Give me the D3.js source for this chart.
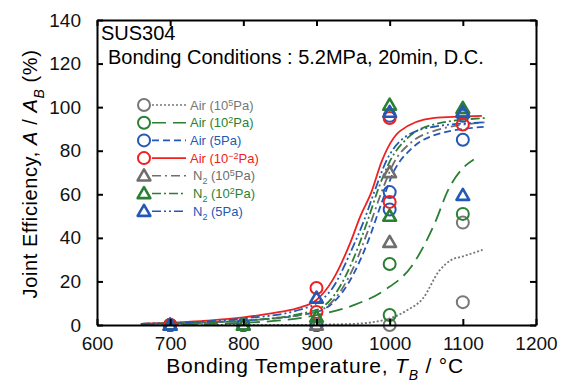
<!DOCTYPE html>
<html>
<head>
<meta charset="utf-8">
<script src="https://cdn.jsdelivr.net/npm/d3@7"></script>
<style>
  body { margin: 0; background: #fff; }
  svg text { font-family: "Liberation Sans", Arial, sans-serif; }
</style>
</head>
<body>
<svg id="chart"></svg>
<script>
const width = 568, height = 385;
const margin = {left: 97, right: 32, top: 20, bottom: 60};

// series: name parts, colour, marker, dash
const seriesNames = [
  ["Air (10", "5", "Pa)"], ["Air (10", "2", "Pa)"], ["Air (5Pa)", "", ""], ["Air (10", "\u22122", "Pa)"],
  ["N", "2", " (10", "5", "Pa)"], ["N", "2", " (10", "2", "Pa)"], ["N", "2", " (5Pa)"]
];
const seriesColors = ["#777777", "#2b7f33", "#2358b5", "#ee2020", "#6e6e6e", "#2b7f33", "#2358b5"];
const seriesMarkers = ["circle", "circle", "circle", "circle", "triangle", "triangle", "triangle"];
const seriesDash = ["2,2", "14,7", "7,4", null, "9,4,2,4", "9,3,2,3", "9,3,2,3,2,3"];

// measured points [temperature, efficiency]
const pointsAir5 = [[700, 0], [800, 0], [900, 0], [1000, 0], [1100, 47], [1100, 10.5]];
const pointsAir2 = [[700, 0], [800, 0], [900, 0], [1000, 4.6], [1000, 28], [1100, 51], [1100, 97]];
const pointsAirA = [[700, 0], [800, 0], [900, 0], [1000, 61], [1000, 53], [1000, 96], [1100, 85], [1100, 96]];
const pointsAirM = [[700, 0], [900, 17], [900, 6], [1000, 56.5], [1000, 95], [1100, 92]];
const pointsN5 = [[700, 0], [800, 0], [900, 0], [1000, 38], [1000, 70], [1100, 98]];
const pointsN2 = [[700, 0], [800, 0], [900, 3.7], [1000, 50], [1000, 101], [1100, 99.5]];
const pointsNA = [[700, 0], [900, 12.4], [1000, 97.7], [1100, 97.7], [1100, 59.6]];

// fitted curves
const curveAir5 = [[660, 0], [850, 0], [950, 0.5], [1000, 3], [1025, 7], [1045, 12], [1068, 25], [1085, 30], [1100, 31.5], [1127, 34.5]];
const curveAir2 = [[660, 0], [800, 1], [900, 4.5], [950, 9], [993, 16], [1030, 27], [1062, 47], [1080, 62], [1100, 72], [1115, 76]];
const curveAirA = [[660, 0.5], [800, 2], [900, 6], [925, 11], [950, 23], [970, 38], [990, 57], [1005, 70], [1030, 81], [1060, 87], [1130, 91]];
const curveAirM = [[660, 0.5], [750, 2], [800, 3.5], [850, 6], [877, 8], [900, 11.5], [922, 20.6], [946, 37.6], [960, 50], [975, 61], [989, 75], [1014, 89], [1059, 95], [1126, 96]];
const curveN5 = [[660, 0.5], [800, 2], [900, 6], [925, 12], [950, 26], [970, 43], [990, 62], [1005, 74], [1030, 84], [1060, 89], [1130, 93]];
const curveN2 = [[660, 0.5], [800, 2], [900, 7], [925, 14], [950, 30], [970, 48], [985, 63], [1000, 75], [1025, 86], [1060, 92], [1130, 95]];
const curveNA = [[660, 0.5], [800, 3], [877, 7], [900, 10], [922, 17], [946, 33], [965, 48], [980, 62], [995, 75], [1020, 86], [1060, 91], [1130, 93]];

const seriesPoints = [pointsAir5, pointsAir2, pointsAirA, pointsAirM, pointsN5, pointsN2, pointsNA];
const seriesCurves = [curveAir5, curveAir2, curveAirA, curveAirM, curveN5, curveN2, curveNA];

const xTicks = [600, 700, 800, 900, 1000, 1100, 1200];
const yTicks = [0, 20, 40, 60, 80, 100, 120, 140];

const svg = d3.select("#chart").attr("width", width).attr("height", height);

const x = d3.scaleLinear().domain([600, 1200]).range([margin.left, width - margin.right]);
const y = d3.scaleLinear().domain([0, 140]).range([height - margin.bottom, margin.top]);

const plot = svg.append("g");

// curves
const line = d3.line().x(d => x(d[0])).y(d => y(d[1])).curve(d3.curveMonotoneX);
seriesCurves.forEach((c, i) => {
  plot.append("path")
      .attr("d", line(c))
      .attr("fill", "none")
      .attr("stroke", seriesColors[i])
      .attr("stroke-width", 1.8)
      .attr("stroke-dasharray", seriesDash[i]);
});

// markers
const tri = d3.symbol().type(d3.symbolTriangle).size(70);
function drawMarker(g, kind, color, cx, cy) {
  if (kind === "circle") {
    g.append("circle").attr("cx", cx).attr("cy", cy).attr("r", 6)
     .attr("fill", "none").attr("stroke", color).attr("stroke-width", 2);
  } else {
    g.append("path").attr("d", tri).attr("transform", `translate(${cx},${cy + 1})`)
     .attr("fill", "none").attr("stroke", color).attr("stroke-width", 2.6).attr("stroke-linejoin", "round");
  }
}
seriesPoints.forEach((pts, i) => {
  pts.forEach(p => drawMarker(plot, seriesMarkers[i], seriesColors[i], x(p[0]), y(p[1])));
});

// axes (inward ticks all round)
const tickFont = g => g.selectAll("text").style("font-size", "19px").attr("fill", "#111");
svg.append("g").attr("transform", `translate(0,${y(0)})`)
   .call(d3.axisBottom(x).tickValues(xTicks).tickFormat(d3.format("d")).tickSizeInner(-6).tickSizeOuter(0).tickPadding(12))
   .call(tickFont).call(g => g.select(".domain").attr("stroke-width", 2));
svg.append("g").attr("transform", `translate(${x(600)},0)`)
   .call(d3.axisLeft(y).tickValues(yTicks).tickSizeInner(-6).tickSizeOuter(0).tickPadding(16))
   .call(tickFont).call(g => g.select(".domain").attr("stroke-width", 2));
svg.append("g").attr("transform", `translate(0,${y(140)})`)
   .call(d3.axisTop(x).tickValues(xTicks).tickSizeInner(-6).tickSizeOuter(0).tickFormat(""))
   .call(g => g.select(".domain").attr("stroke-width", 2));
svg.append("g").attr("transform", `translate(${x(1200)},0)`)
   .call(d3.axisRight(y).tickValues(yTicks).tickSizeInner(-6).tickSizeOuter(0).tickFormat(""))
   .call(g => g.select(".domain").attr("stroke-width", 2));
svg.selectAll(".tick line").attr("stroke-width", 2);

// in-plot captions
svg.append("text").attr("x", 101).attr("y", 40).style("font-size", "20px").text("SUS304");
svg.append("text").attr("x", 108).attr("y", 64).style("font-size", "20px")
   .text("Bonding Conditions : 5.2MPa, 20min, D.C.");

// legend
const legend = svg.append("g");
seriesNames.forEach((parts, i) => {
  const ly = 105 + i * 17.7;
  drawMarker(legend, seriesMarkers[i], seriesColors[i], 144, ly);
  legend.append("line").attr("x1", 152).attr("x2", 186).attr("y1", ly).attr("y2", ly)
        .attr("stroke", seriesColors[i]).attr("stroke-width", 1.6).attr("stroke-dasharray", seriesDash[i]);
  const t = legend.append("text").attr("x", i < 4 ? 190 : 193).attr("y", ly + 4.5)
        .style("font-size", "13px").attr("fill", seriesColors[i]);
  if (i < 4) {
    t.append("tspan").text(parts[0]);
    if (parts[1]) t.append("tspan").attr("dy", -4).style("font-size", "9px").text(parts[1]);
    if (parts[2]) t.append("tspan").attr("dy", 4).text(parts[2]);
  } else {
    t.append("tspan").text(parts[0]);
    t.append("tspan").attr("dy", 4).style("font-size", "9px").text(parts[1]);
    t.append("tspan").attr("dy", -4).text(parts[2]);
    if (parts[3]) {
      t.append("tspan").attr("dy", -4).style("font-size", "9px").text(parts[3]);
      t.append("tspan").attr("dy", 4).text(parts[4]);
    }
  }
});

// axis titles
const xt = svg.append("text").attr("x", 315).attr("y", 373).attr("text-anchor", "middle")
   .style("font-size", "21px").style("letter-spacing", "0.8px");
xt.append("tspan").text("Bonding Temperature,  ");
xt.append("tspan").style("font-style", "italic").text("T");
xt.append("tspan").attr("dy", 7).style("font-size", "14px").style("font-style", "italic").text("B");
xt.append("tspan").attr("dy", -7).text(" / \u00B0C");

const yt = svg.append("text").attr("transform", "translate(37,174) rotate(-90)").attr("text-anchor", "middle")
   .style("font-size", "20px").style("letter-spacing", "0.6px");
yt.append("tspan").text("Joint Efficiency,  ");
yt.append("tspan").style("font-style", "italic").text("A");
yt.append("tspan").text(" / ");
yt.append("tspan").style("font-style", "italic").text("A");
yt.append("tspan").attr("dy", 7).style("font-size", "14px").style("font-style", "italic").text("B");
yt.append("tspan").attr("dy", -7).text(" (%)");
</script>
</body>
</html>
